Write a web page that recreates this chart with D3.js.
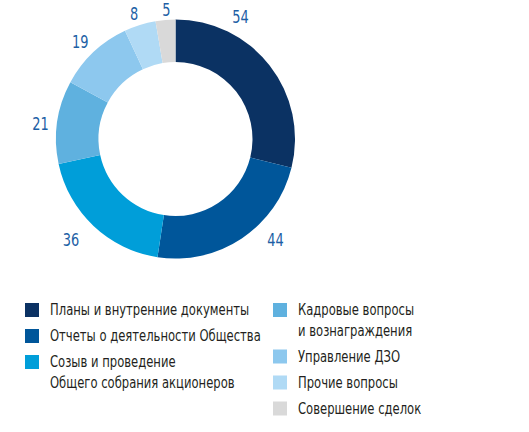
<!DOCTYPE html>
<html lang="ru">
<head>
<meta charset="UTF-8">
<script src="https://d3js.org/d3.v7.min.js"></script>
<style>
  body { margin: 0; background: #fff; }
  text { font-family: "DejaVu Sans Condensed", "Roboto", sans-serif; }
</style>
</head>
<body>
<div id="chart"></div>
<script>
// data
const categories = [
  "Планы и внутренние документы",
  "Отчеты о деятельности Общества",
  "Созыв и проведение\nОбщего собрания акционеров",
  "Кадровые вопросы\nи вознаграждения",
  "Управление ДЗО",
  "Прочие вопросы",
  "Совершение сделок"
];
const values = [54, 44, 36, 21, 19, 8, 5];
const colors = ["#0b3263", "#00569a", "#009ed9", "#5fb1df", "#8dc8ee", "#b0daf5", "#d9d9d9"];

const W = 529, H = 432;
const cx = 175.5, cy = 139, rOuter = 119.5, rInner = 77;

const svg = d3.select("#chart").append("svg").attr("width", W).attr("height", H);

const pie = d3.pie().sort(null).value(d => d)(values);
const arc = d3.arc().innerRadius(rInner).outerRadius(rOuter);

const g = svg.append("g").attr("transform", `translate(${cx},${cy})`);

g.selectAll("path.slice")
  .data(pie)
  .enter().append("path")
  .attr("class", "slice")
  .attr("d", arc)
  .attr("fill", (d, i) => colors[i]);

// value labels around the ring: where along the slice, and how far out
const labelFrac = [0.27, 0.37, 0.54, 0.46, 0.47, 0.44, 0.58];
const labelR = [138, 142, 145, 136, 136, 132, 129.5];
const labelAngle = (d, i) => d.startAngle + (d.endAngle - d.startAngle) * labelFrac[i];

g.selectAll("text.val")
  .data(pie)
  .enter().append("text")
  .attr("class", "val")
  .attr("transform", (d, i) => {
    const a = labelAngle(d, i);
    return `translate(${Math.sin(a) * labelR[i]},${-Math.cos(a) * labelR[i]}) scale(0.8,1)`;
  })
  .attr("text-anchor", "middle")
  .attr("dominant-baseline", "central")
  .attr("fill", "#1d5fa5")
  .style("font-size", "18px")
  .text(d => d.data);

// legend
const legendCols = [[0, 1, 2], [3, 4, 5, 6]];
const colX = [25, 273];
const legendTop = 310;
const itemGap = 26, lineGap = 20.5;

legendCols.forEach((col, c) => {
  let y = legendTop;
  col.forEach(i => {
    const lines = categories[i].split("\n");
    const item = svg.append("g").attr("transform", `translate(${colX[c]},${y})`);
    item.append("rect")
      .attr("x", 0).attr("y", -7)
      .attr("width", 14).attr("height", 14)
      .attr("fill", colors[i]);
    const t = item.append("text")
      .attr("transform", "translate(25,0) scale(0.86,1)")
      .attr("fill", "#231f20")
      .style("font-size", "15px");
    lines.forEach((l, k) => {
      t.append("tspan")
        .attr("x", 0)
        .attr("y", k * lineGap)
        .attr("dominant-baseline", "central")
        .text(l);
    });
    y += itemGap + (lines.length - 1) * lineGap;
  });
});
</script>
</body>
</html>
